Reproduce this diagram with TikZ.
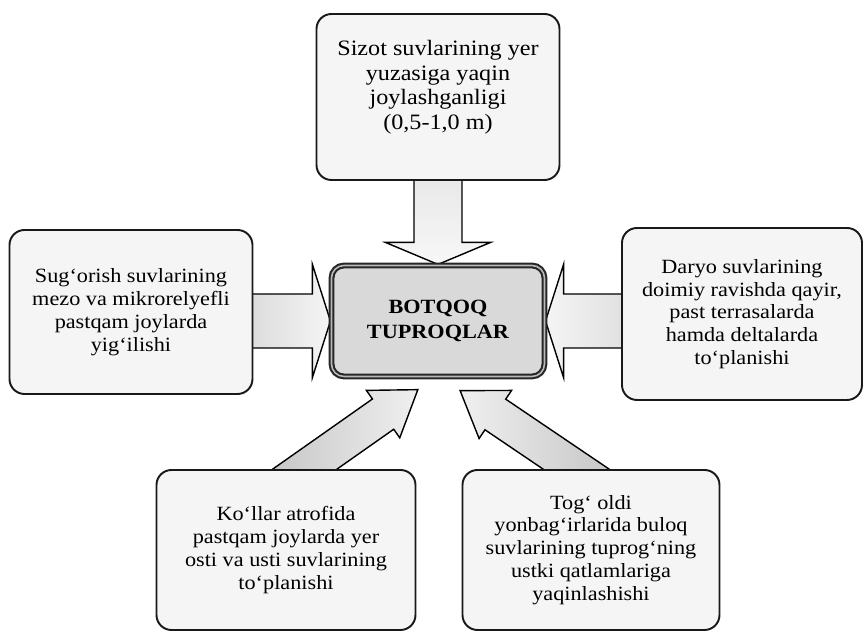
\documentclass[tikz,border=0pt]{standalone}
\usepackage{fontspec}
\setmainfont{Liberation Serif}[FakeStretch=1.1]
\usetikzlibrary{positioning, calc, backgrounds}

% block arrow: [look] from, to, half shaft, half head, head length
\newcommand{\fatarrow}[6][]{%
  \draw[flow, #1] let \p1=(#2), \p2=(#3),
      \n1={atan2(\y2-\y1,\x2-\x1)}, \n2={veclen(\x2-\x1,\y2-\y1)} in
    [shift={(\p1)}, rotate=\n1]
    (-0.7cm,-#4) -- (\n2-#6,-#4) -- (\n2-#6,-#5) -- (\n2,0pt)
    -- (\n2-#6,#5) -- (\n2-#6,#4) -- (-0.7cm,#4) -- cycle;}

\begin{document}
\begin{tikzpicture}[
    on grid,
    font=\fontsize{11.5}{13}\selectfont,
    box/.style={draw=black!90, line width=1.1pt, rounded corners=0.3cm, fill=gray!8, align=center, inner sep=2pt},
    soilbox/.style={draw=black!85, line width=1.2pt, double=gray!55, double distance=0.9pt, rounded corners=0.25cm,
                    fill=gray!30, align=center, font=\fontsize{11.5}{14}\selectfont\bfseries},
    flow/.style={draw=black, line width=0.8pt, fill=gray!15, line join=miter}
]
   \useasboundingbox (-8.76,-6.32) rectangle (8.52,6.42);

   % Boxes
   \node[soilbox, minimum width=4.26cm, minimum height=2.22cm] (soil) {BOTQOQ\\TUPROQLAR};
   \node[box, minimum width=4.86cm, minimum height=3.32cm, font=\fontsize{12.5}{14}\selectfont] (ground) [above=4.48cm of soil]
        {Sizot suvlarining yer\\yuzasiga yaqin\\joylashganligi\\(0,5-1,0 m)\\ \mbox{}};
   \node[box, minimum width=4.86cm, minimum height=3.28cm] (irrig) [left=6.14cm of soil, yshift=0.18cm]
        {Sug`orish suvlarining\\mezo va mikrorelyefli\\pastqam joylarda\\yig`ilishi};
   \node[box, minimum width=4.8cm, minimum height=3.44cm] (river) [right=6.08cm of soil, yshift=0.14cm]
        {Daryo suvlarining\\doimiy ravishda qayir,\\past terrasalarda\\hamda deltalarda\\to`planishi};
   \node[box, minimum width=5.18cm, minimum height=3.2cm] (lake) [below left=4.58cm and 3.04cm of soil]
        {Ko`llar atrofida\\pastqam joylarda yer\\osti va usti suvlarining\\to`planishi};
   \node[box, minimum width=5.14cm, minimum height=3.2cm] (spring) [below right=4.58cm and 3.06cm of soil]
        {Tog` oldi\\yonbag`irlarida buloq\\suvlarining tuprog`ning\\ustki qatlamlariga\\yaqinlashishi};

   % Arrows
   \begin{scope}[on background layer]
      \fatarrow[top color=gray!22, bottom color=gray!6]{ground.south}{ground.south |- soil.north}{0.48cm}{1.05cm}{0.44cm}
      \fatarrow[left color=gray!35, right color=gray!8]{irrig.east |- soil.west}{soil.west}{0.54cm}{1.13cm}{0.36cm}
      \fatarrow[right color=gray!30, left color=gray!8]{river.west |- soil.east}{soil.east}{0.54cm}{1.13cm}{0.36cm}
      \fatarrow[left color=gray!45, right color=gray!12]{$(lake.north)+(0.38,0)$}{$(soil.south)+(-0.4,-0.24)$}{0.37cm}{0.58cm}{0.85cm}
      \fatarrow[right color=gray!45, left color=gray!12]{$(spring.north)+(-0.3,0)$}{$(soil.south)+(0.44,-0.26)$}{0.37cm}{0.58cm}{0.85cm}
   \end{scope}

\end{tikzpicture}
\end{document}
